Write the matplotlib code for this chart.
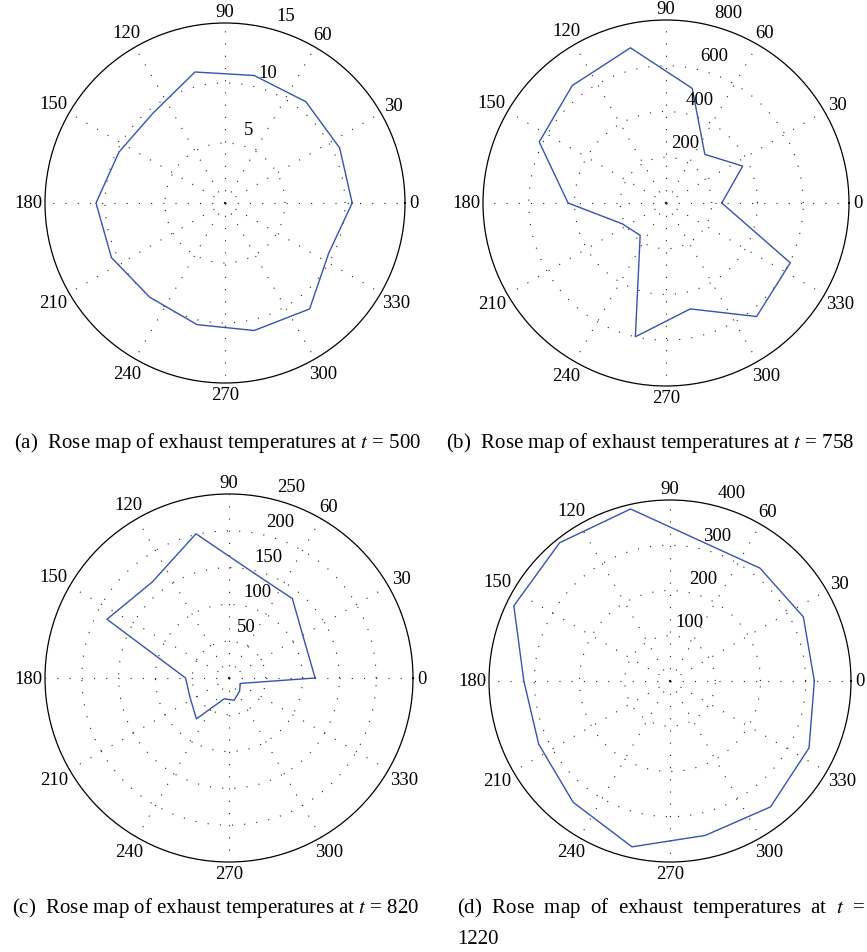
import numpy as np
import matplotlib as mpl
mpl.use('Agg')
import matplotlib.pyplot as plt

plt.rcParams['font.family'] = ['Liberation Serif', 'DejaVu Serif']
plt.rcParams['mathtext.fontset'] = 'stix'

# 14 exhaust thermocouples around the turbine, angle in degrees
sensor_angles = [0, 25.7, 51.4, 77.1, 102.9, 128.6, 154.3,
                 180, 205.7, 231.4, 257.1, 282.9, 308.6, 334.3]

temps_500 = [10.6, 10.6, 10.8, 10.9, 11.2, 9.6, 9.8,
             10.75, 10.5, 10.05, 10.4, 10.9, 11.3, 9.6]
temps_758 = [244, 372, 272, 514, 696, 657, 615,
             428, 211, 181, 600, 475, 635, 603]
temps_820 = [117, 114, 138, 147, 201, 167, 184,
             59, 59, 71, 29, 31, 23, 17]
temps_1220 = [319, 327, 319, 316, 390, 391, 383,
              323, 322, 343, 376, 350, 356, 341]

rings_500 = [5, 10, 15]
rings_758 = [200, 400, 600, 800]
rings_820 = [50, 100, 150, 200, 250]
rings_1220 = [100, 200, 300, 400]

angle_ticks = [0, 30, 60, 90, 120, 150, 180, 210, 240, 270, 300, 330]

captions = ['(a)  Rose map of exhaust temperatures at $t$ = 500',
            '(b)  Rose map of exhaust temperatures at $t$ = 758',
            '(c)  Rose map of exhaust temperatures at $t$ = 820',
            '(d)  Rose  map  of  exhaust  temperatures  at  $t$  =\n1220']

W, H = 867, 953
fig = plt.figure(figsize=(W / 100, H / 100), dpi=100)

# centre (x, y from top) and radius of each rose, in pixels
panels = [
    ((225, 204, 180), temps_500, rings_500),
    ((666, 204, 183), temps_758, rings_758),
    ((229, 679, 184), temps_820, rings_820),
    ((670, 682, 181), temps_1220, rings_1220),
]

dots = (0, (1, 10))

for (cx, cy, R), temps, rings in panels:
    ax = fig.add_axes([(cx - R) / W, 1 - (cy + R) / H, 2 * R / W, 2 * R / H],
                      projection='polar')
    rmax = rings[-1]
    th = np.deg2rad(sensor_angles + sensor_angles[:1])
    ax.plot(th, temps + temps[:1], color='#3653b0', lw=1.0)
    ax.set_ylim(0, rmax)
    ax.set_rgrids(rings[:-1], labels=[])
    ax.set_thetagrids(angle_ticks, labels=[])
    ax.grid(True, color='#222222', lw=0.8, linestyle=dots)
    ax.spines['polar'].set_linewidth(0.9)
    ax.spines['polar'].set_color('black')
    ax.tick_params(length=0)
    # angle labels sit just outside the rim, pushed out by half their size
    for a in angle_ticks:
        t = np.deg2rad(a)
        half = abs(np.cos(t)) * 3.8 * len(str(a)) + abs(np.sin(t)) * 6.5
        dist = R + 5 + half
        ax.text(t, rmax * dist / R, str(a), ha='center', va='center',
                fontsize=13.5, clip_on=False)
    for v in rings:
        ax.text(np.deg2rad(72), v + 0.095 * rmax, str(v), ha='center', va='center',
                fontsize=13.5, clip_on=False)

cap_pos = [(14, 443), (446, 443), (12, 908), (457, 908)]
for (x, y), txt in zip(cap_pos, captions):
    if '\n' in txt:
        line1, line2 = txt.split('\n')
        fig.text(x / W, 1 - y / H, line1, ha='left', va='center', fontsize=15)
        fig.text(x / W, 1 - (y + 32) / H, line2, ha='left', va='center', fontsize=15)
    else:
        fig.text(x / W, 1 - y / H, txt, ha='left', va='center', fontsize=15)

fig.savefig('out.png', dpi=100)
